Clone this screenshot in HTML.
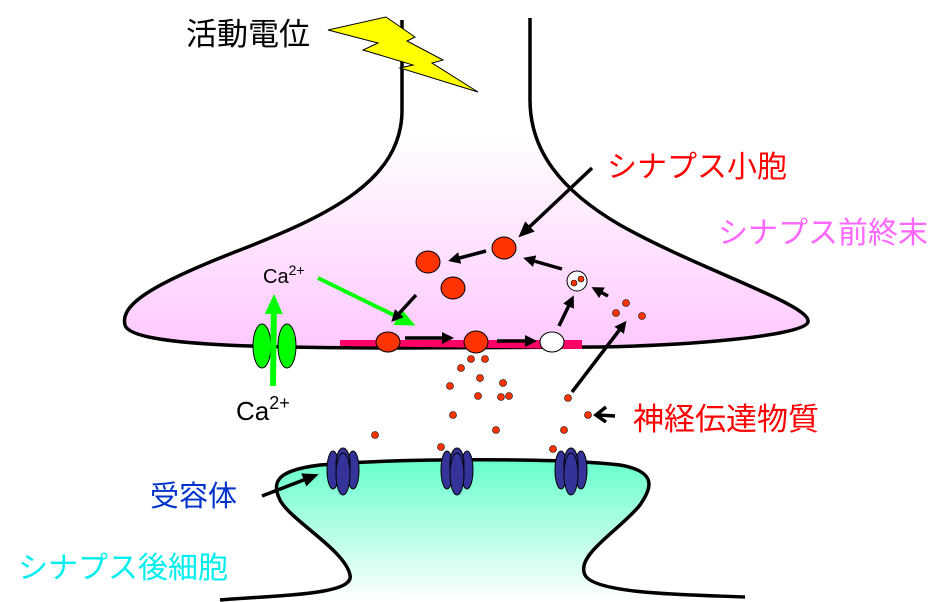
<!DOCTYPE html>
<html><head><meta charset="utf-8"><style>
html,body{margin:0;padding:0;background:#fff;}
svg{display:block;}
text{font-family:"Liberation Sans","Noto Sans CJK JP",sans-serif;}
</style></head><body>
<svg width="948" height="602" viewBox="0 0 948 602" xmlns="http://www.w3.org/2000/svg">
<defs>
<linearGradient id="pk" x1="0" y1="0" x2="0" y2="1"><stop offset="0" stop-color="#fff"/><stop offset="0.35" stop-color="#fff"/><stop offset="1" stop-color="#ffc8ff"/></linearGradient>
<linearGradient id="gr" x1="0" y1="0" x2="0" y2="1"><stop offset="0" stop-color="#66ffcc"/><stop offset="1" stop-color="#fff"/></linearGradient>
<marker id="ah" markerWidth="12" markerHeight="12" refX="8" refY="6" orient="auto" markerUnits="userSpaceOnUse"><path d="M0,0 L12,6 L0,12 z" fill="#000"/></marker>
<marker id="ahb" markerWidth="16" markerHeight="14" refX="11" refY="7" orient="auto" markerUnits="userSpaceOnUse"><path d="M0,0 L16,7 L0,14 z" fill="#000"/></marker>
<marker id="ag" markerWidth="20" markerHeight="18" refX="14" refY="9" orient="auto" markerUnits="userSpaceOnUse"><path d="M0,0 L20,9 L0,18 z" fill="#00ff00"/></marker>
</defs>
<path d="M402,20 L402,110 C402,180 330,215 240,250 C150,285 120,305 125,325 C130,345 250,348 400,348 L600,347 C700,345 805,335 808,322 C812,305 700,270 620,225 C560,190 530,150 530,100 L530,18" fill="url(#pk)" stroke="#000" stroke-width="3.5"/>
<path d="M220,600 C280,595 355,595 350,575 C345,550 290,520 280,500 C270,480 280,470 320,465 C400,458 560,458 620,465 C660,472 650,490 640,505 C620,530 575,555 585,575 C595,595 700,595 745,597" fill="url(#gr)" stroke="#000" stroke-width="3.5"/>
<polygon points="328,30 386,17 415,37 407,41 443,60 432,63 478,92 400,68 413,65 363,50 378,43" fill="#ffff00" stroke="#000" stroke-width="1"/>
<polygon points="340,340 582,340 582,349 340,346" fill="#ff0066"/>
<g fill="#ff3300" stroke="#000" stroke-width="1">
<ellipse cx="428" cy="262" rx="12" ry="11"/>
<ellipse cx="504" cy="248" rx="12" ry="11"/>
<ellipse cx="453" cy="288" rx="12" ry="11"/>
<ellipse cx="388" cy="342" rx="12" ry="10"/>
<ellipse cx="476" cy="342" rx="12" ry="11"/>
</g>
<ellipse cx="552" cy="342" rx="12" ry="10" fill="#fff" stroke="#000" stroke-width="1"/>
<circle cx="577" cy="281" r="10" fill="#fff" stroke="#000" stroke-width="1"/>
<g fill="#ff3300" stroke="#000" stroke-width="0.6">
<circle cx="574" cy="283" r="3"/><circle cx="581" cy="279" r="3"/>
<circle cx="626" cy="303" r="3.5"/><circle cx="616" cy="313" r="3.5"/><circle cx="642" cy="316" r="3.5"/>
<circle cx="471" cy="359" r="3.5"/><circle cx="485" cy="359" r="3.5"/><circle cx="461" cy="368" r="3.5"/><circle cx="480" cy="378" r="3.5"/><circle cx="503" cy="383" r="3.5"/><circle cx="450" cy="386" r="3.5"/><circle cx="478" cy="396" r="3.5"/><circle cx="501" cy="397" r="3.5"/><circle cx="509" cy="396" r="3.5"/><circle cx="453" cy="415" r="3.5"/><circle cx="496" cy="430" r="3.5"/><circle cx="375" cy="435" r="3.5"/><circle cx="568" cy="398" r="3.5"/><circle cx="588" cy="415" r="3.5"/><circle cx="564" cy="430" r="3.5"/><circle cx="441" cy="447" r="3.5"/><circle cx="553" cy="449" r="3.5"/>
</g>
<g fill="#333399" stroke="#000" stroke-width="1">
<ellipse cx="333" cy="470" rx="6" ry="19"/><ellipse cx="353" cy="470" rx="6" ry="19"/><ellipse cx="343" cy="464" rx="7" ry="16"/><ellipse cx="343" cy="474" rx="7" ry="21"/>
<ellipse cx="447" cy="470" rx="6" ry="19"/><ellipse cx="467" cy="470" rx="6" ry="19"/><ellipse cx="457" cy="464" rx="7" ry="16"/><ellipse cx="457" cy="474" rx="7" ry="21"/>
<ellipse cx="561" cy="470" rx="6" ry="19"/><ellipse cx="581" cy="470" rx="6" ry="19"/><ellipse cx="571" cy="464" rx="7" ry="16"/><ellipse cx="571" cy="474" rx="7" ry="21"/>
</g>
<ellipse cx="262" cy="346" rx="9" ry="22" fill="#00ff00" stroke="#000" stroke-width="1"/>
<ellipse cx="287" cy="346" rx="9" ry="22" fill="#00ff00" stroke="#000" stroke-width="1"/>
<line x1="273" y1="386" x2="274" y2="300" stroke="#00ff00" stroke-width="6" marker-end="url(#ag)"/>
<line x1="318" y1="278" x2="410" y2="323" stroke="#00ff00" stroke-width="4" marker-end="url(#ag)"/>
<g stroke="#000" stroke-width="3.5" fill="none">
<line x1="486" y1="251" x2="452" y2="260" marker-end="url(#ah)"/>
<line x1="416" y1="295" x2="394" y2="319" marker-end="url(#ah)"/>
<line x1="405" y1="338" x2="450" y2="338" marker-end="url(#ah)"/>
<line x1="497" y1="341" x2="533" y2="341" marker-end="url(#ah)"/>
<line x1="559" y1="326" x2="572" y2="299" marker-end="url(#ah)"/>
<line x1="562" y1="269" x2="527" y2="259" marker-end="url(#ah)"/>
<line x1="608" y1="296" x2="595" y2="289" marker-end="url(#ah)"/>
<line x1="572" y1="392" x2="624" y2="324" marker-end="url(#ah)"/>
<line x1="592" y1="168" x2="522" y2="234" marker-end="url(#ahb)"/>
<line x1="262" y1="496" x2="314" y2="476" marker-end="url(#ahb)"/>
<line x1="615" y1="416" x2="598" y2="415"/>
<polyline points="606,407 596,415 606,422"/>
</g>
<text x="186" y="45" font-size="31" fill="#000">活動電位</text>
<text x="607" y="177" font-size="30" fill="#ff0000">シナプス小胞</text>
<text x="718" y="243" font-size="30" fill="#ff66ff">シナプス前終末</text>
<text x="263" y="283" font-size="20" fill="#000">Ca<tspan font-size="14" dy="-8">2+</tspan></text>
<text x="236" y="420" font-size="26" fill="#000">Ca<tspan font-size="18" dy="-11">2+</tspan></text>
<text x="633" y="430" font-size="31" fill="#ff0000">神経伝達物質</text>
<text x="150" y="506" font-size="29" fill="#0033cc">受容体</text>
<text x="18" y="578" font-size="30" fill="#00eeee">シナプス後細胞</text>
</svg>
</body></html>
